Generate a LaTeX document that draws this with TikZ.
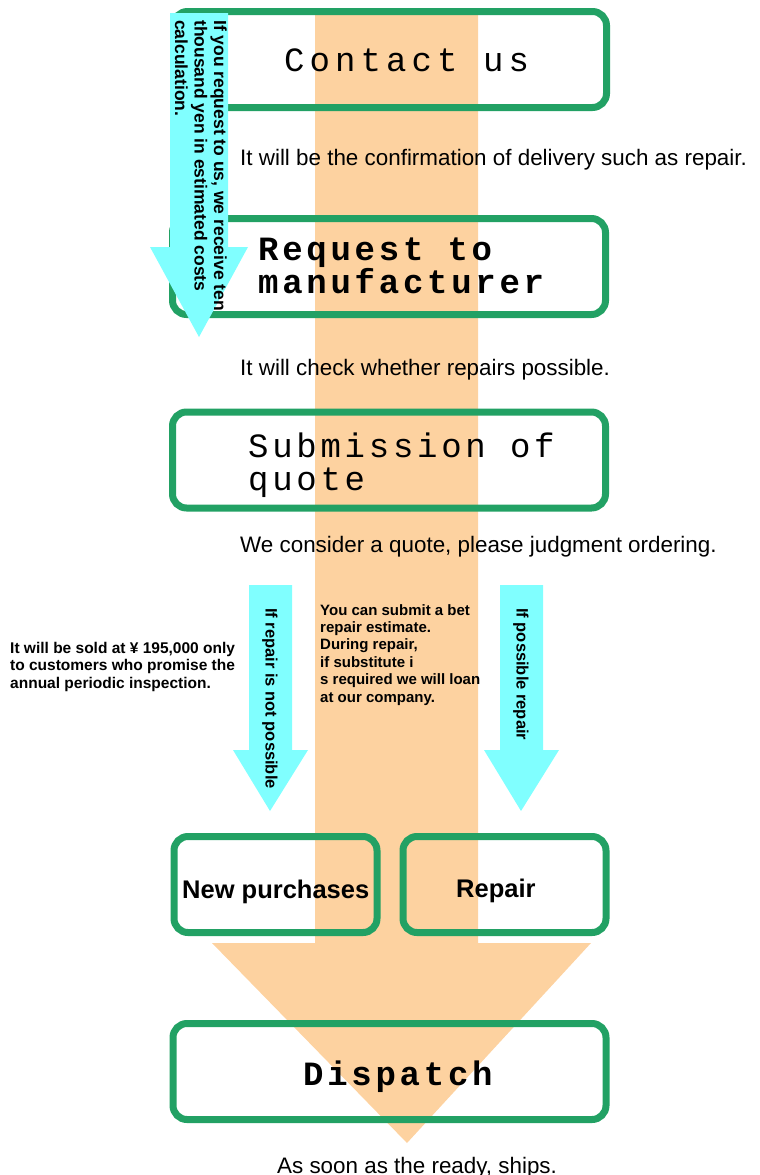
\documentclass[tikz,border=0pt]{standalone}
\usepackage{fontspec}
\setmainfont{Liberation Sans}
\newfontfamily\titlefont[LetterSpace=11]{Liberation Mono}
\newfontfamily\contactfont[LetterSpace=15]{Liberation Mono}
\usetikzlibrary{positioning}
\definecolor{bandorange}{RGB}{253,210,160}
\definecolor{boxgreen}{RGB}{34,161,100}
\definecolor{arrowcyan}{RGB}{128,255,255}
\tikzset{
  stepbox/.style={draw=boxgreen, line width=7pt, rounded corners=14pt,
    minimum width=433pt, minimum height=96pt, inner sep=0pt},
  halfbox/.style={stepbox, minimum width=203pt},
  title/.style={font=\fontsize{34}{33}\titlefont, anchor=base west, align=left, inner sep=0pt},
  choice/.style={font=\fontsize{25.5}{30}\selectfont\bfseries, anchor=base west, inner sep=0pt},
  note/.style={font=\fontsize{22.4}{26}\selectfont, anchor=base west, inner sep=0pt},
  hint/.style={font=\fontsize{15}{17.4}\selectfont\bfseries, anchor=base west, align=left, inner sep=0pt},
  flowtext/.style={font=\fontsize{16.5}{19.5}\selectfont\bfseries, rotate=-90, align=left, inner sep=0pt},
  flow/.style={fill=arrowcyan}
}

\begin{document}
\begin{tikzpicture}[x=1pt, y=-1pt]
  \useasboundingbox (0,0) rectangle (760,1175);
  % main band down to dispatch
  \fill[bandorange] (315,12) -- (478,12) -- (478,943) -- (591,943) -- (407,1143) -- (212,943) -- (315,943) -- cycle;

  % steps
  \node[stepbox] (contact) at (390,59.5) {};
  \node[stepbox] (request) at (389,266.5) {};
  \node[stepbox] (quote) at (389,460) {};
  \node[halfbox] (newbuy) at (275.5,884.5) {};
  \node[halfbox] (repair) at (504.5,884.5) {};
  \node[stepbox] (dispatch) at (389.5,1071.5) {};

  \node[title, font=\fontsize{34}{33}\contactfont] (contacttxt) at (284,71) {Contact us};
  \node[title, font=\fontsize{34}{33}\titlefont\bfseries] (requesttxt) at (258,293) {Request to\\manufacturer};
  \node[title] (quotetxt) at (248,490) {Submission of\\quote};
  \node[choice] (newbuytxt) at (182,898) {New purchases};
  \node[choice] (repairtxt) at (456,897) {Repair};
  \node[title, font=\fontsize{34}{33}\titlefont\bfseries] (dispatchtxt) at (303,1085) {Dispatch};

  % notes under the steps
  \node[note] (contactnote) at (240,165) {It will be the confirmation of delivery such as repair.};
  \node[note] (requestnote) at (240,375) {It will check whether repairs possible.};
  \node[note] (quotenote) at (240,552) {We consider a quote, please judgment ordering.};
  \node[note] (dispatchnote) at (277,1173) {As soon as the ready, ships.};

  % cyan arrows
  \fill[flow] (170,13) -- (228,13) -- (228,247) -- (248,247) -- (199,337) -- (150,247) -- (170,247) -- cycle;
  \fill[flow] (249,585) -- (292,585) -- (292,750) -- (308,750) -- (270,811) -- (233,750) -- (249,750) -- cycle;
  \fill[flow] (500,585) -- (543,585) -- (543,750) -- (559,750) -- (521,811) -- (484,750) -- (500,750) -- cycle;

  \node[flowtext, font=\fontsize{17.5}{19.5}\selectfont\bfseries, anchor=north west] (costtxt) at (227,20)
    {If you request to us, we receive ten\\thousand yen in estimated costs\\calculation.};
  \node[flowtext, anchor=west] (notpossible) at (270,608) {If repair is not possible};
  \node[flowtext, anchor=west] (possible) at (521,608) {If possible repair};

  \node[hint, font=\fontsize{15.5}{17.4}\selectfont\bfseries] (soldtxt) at (10,688) {It will be sold at ¥ 195,000 only\\to customers who promise the\\annual periodic inspection.};
  \node[hint] (loantxt) at (320,702) {You can submit a bet\\repair estimate.\\During repair,\\if substitute i\\s required we will loan\\at our company.};
\end{tikzpicture}
\end{document}
